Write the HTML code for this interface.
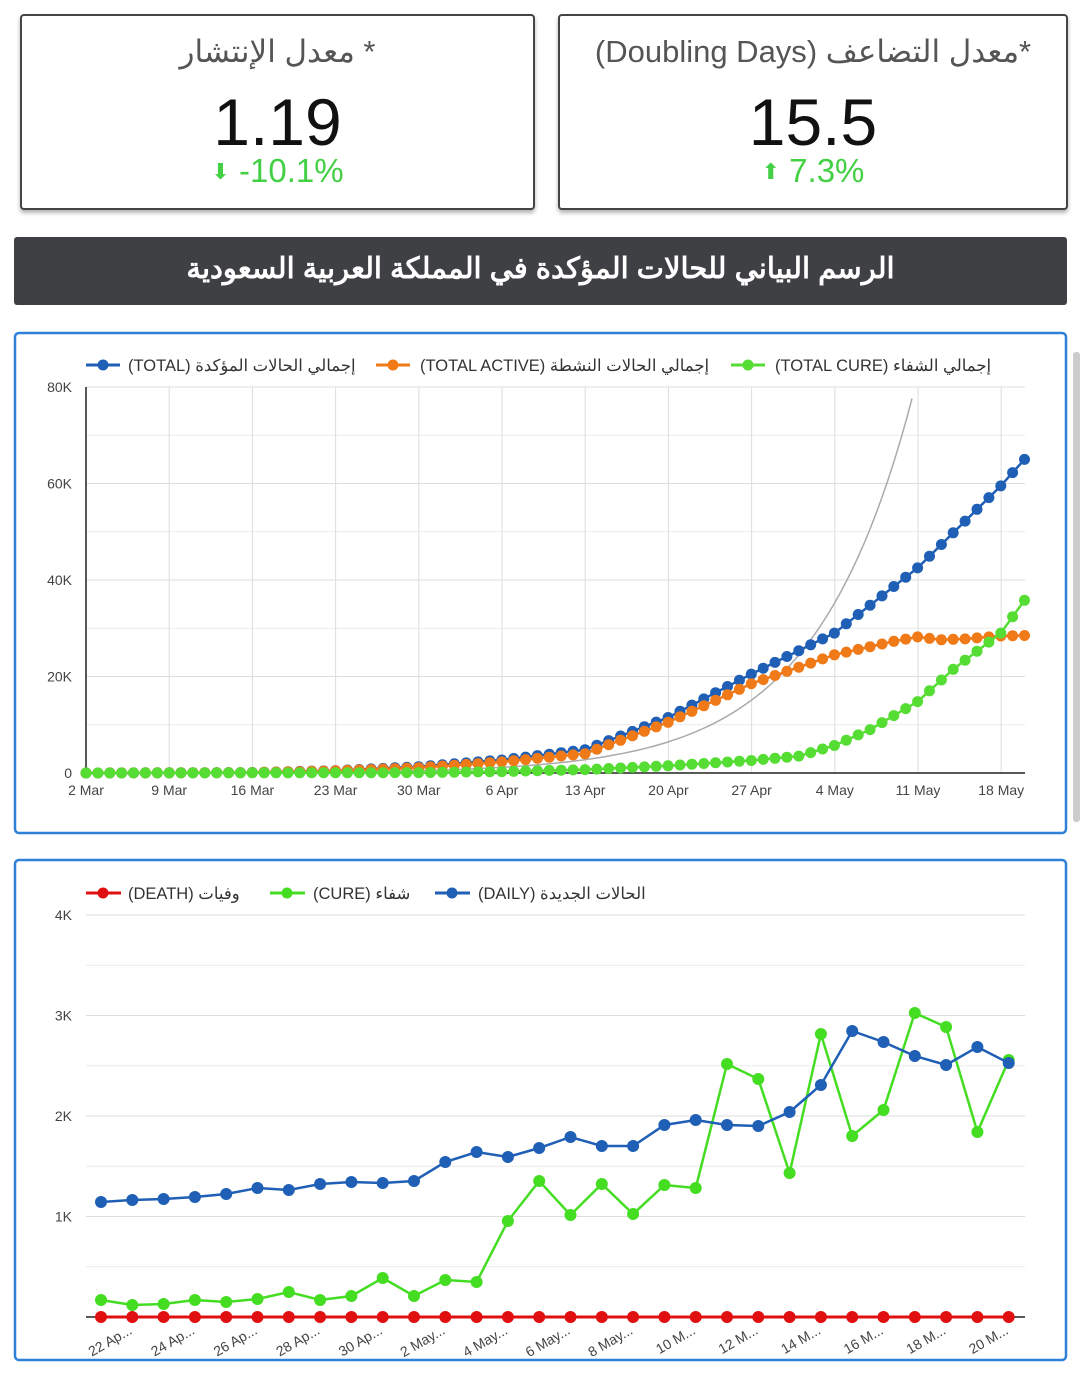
<!DOCTYPE html>
<html><head><meta charset="utf-8"><style>
html,body{margin:0;padding:0;background:#fff;width:1080px;height:1379px;overflow:hidden;font-family:"Liberation Sans","Noto Sans CJK SC",sans-serif}
.card{position:absolute;top:14px;height:192px;border:2px solid #444;border-radius:4px;box-shadow:0 3px 4px rgba(0,0,0,.3);background:#fff;text-align:center}
.t{position:absolute;left:0;right:0;top:18px;font-size:31px;color:#555;direction:rtl}
.v{position:absolute;left:0;right:0;top:68px;font-size:66px;color:#111}
.p{position:absolute;left:0;right:0;top:136px;font-size:33px;color:#44d044}
.p span{font-size:22px;font-family:"DejaVu Sans",sans-serif;vertical-align:3px}
.banner{position:absolute;left:14px;top:237px;width:1053px;height:68px;background:#3e4043;border-radius:3px;color:#fff;font-size:29px;font-weight:bold;text-align:center;line-height:64px;direction:rtl}
svg{position:absolute;left:0;top:0}
</style></head><body>
<div class="card" style="left:20px;width:511px"><div class="t">* معدل الإنتشار</div><div class="v">1.19</div><div class="p"><span>⬇</span> -10.1%</div></div>
<div class="card" style="left:558px;width:506px"><div class="t">*معدل التضاعف (Doubling Days)</div><div class="v">15.5</div><div class="p"><span>⬆</span> 7.3%</div></div>
<div class="banner">الرسم البياني للحالات المؤكدة في المملكة العربية السعودية</div>
<svg id="s" width="1080" height="1379" font-family="Liberation Sans, Noto Sans CJK SC, sans-serif"></svg>
<script>
var s='';
function L(x1,y1,x2,y2,c,w){s+='<line x1="'+x1+'" y1="'+y1+'" x2="'+x2+'" y2="'+y2+'" stroke="'+c+'" stroke-width="'+w+'"/>';}
function T(x,y,t,sz,a,c,extra){s+='<text x="'+x+'" y="'+y+'" font-size="'+sz+'" text-anchor="'+a+'" fill="'+(c||'#333')+'" '+(extra||'')+'>'+t+'</text>';}
function series(pts,c,r,w){s+='<polyline fill="none" stroke="'+c+'" stroke-width="'+w+'" points="'+pts.map(p=>p.join(',')).join(' ')+'"/>';pts.forEach(p=>{s+='<circle cx="'+p[0]+'" cy="'+p[1]+'" r="'+r+'" fill="'+c+'"/>';});}
s+='<rect x="15" y="333" width="1051" height="500" rx="4" fill="#fff" stroke="#2f80d8" stroke-width="2.5"/>';
s+='<rect x="15" y="860" width="1051" height="500" rx="4" fill="#fff" stroke="#2f80d8" stroke-width="2.5"/>';
s+='<rect x="1073" y="352" width="7" height="470" rx="3" fill="#ccc"/>';
for(var i=0;i<=8;i++){var y=387+i*48.25;L(86,y,1025,y,i%2?'#ececec':'#ddd',1);}
var dl=['2 Mar','9 Mar','16 Mar','23 Mar','30 Mar','6 Apr','13 Apr','20 Apr','27 Apr','4 May','11 May','18 May'];
dl.forEach((d,i)=>{var x=86+i*83.2;if(i)L(x,387,x,773,'#ddd',1);T(x,795,d,14,'middle','#444');});
L(86,387,86,773,'#222',1.5);L(86,773,1025,773,'#222',1.5);
['80K','60K','40K','20K','0'].forEach((t,i)=>T(72,392+i*96.5,t,14,'end','#444'));
function interp(a,d){for(var i=0;i<a.length-1;i++){if(d<=a[i+1][0]){var f=(d-a[i][0])/(a[i+1][0]-a[i][0]);return a[i][1]+f*(a[i+1][1]-a[i][1]);}}return a[a.length-1][1];}
var tot=[[0,0],[14,100],[21,500],[28,1300],[35,2700],[42,4800],[49,11500],[56,20500],[63,29000],[70,42500],[77,59500],[79,65000]];
var act=[[0,0],[14,90],[21,450],[28,1100],[35,2300],[42,4000],[49,10500],[56,18500],[63,24500],[68,27300],[70,28200],[72,27600],[74,27800],[77,28400],[79,28500]];
var cur=[[0,0],[28,80],[35,300],[42,700],[49,1500],[56,2600],[60,3500],[63,5700],[66,9000],[70,14800],[73,21500],[77,29000],[79,35800]];
function pts(a){var r=[];for(var d=0;d<=79;d++)r.push([(86+d*11.88).toFixed(1),(773-interp(a,d)/20000*96.5).toFixed(1)]);return r;}
var g=[];for(var x=300;x<=916;x+=6){var v=80000*Math.exp(-0.0102*(915-x));g.push([x,(773-v/20000*96.5).toFixed(1)]);}
s+='<polyline fill="none" stroke="#aaa" stroke-width="1.5" points="'+g.map(p=>p.join(',')).join(' ')+'"/>';
series(pts(tot),'#1f5fb5',5.5,2.5);
series(pts(act),'#f07a18',5.5,2.5);
series(pts(cur),'#55dd33',5.5,2.5);
function leg(x1,y,c,tx,t){L(x1,y,x1+34,y,c,3);s+='<circle cx="'+(x1+17)+'" cy="'+y+'" r="5.5" fill="'+c+'"/>';T(tx,y+6,t,16.5,'start','#333','direction="ltr"');}
leg(86,365,'#1f5fb5',128,'(TOTAL) <tspan>إجمالي الحالات المؤكدة</tspan>');
leg(376,365,'#f07a18',420,'(TOTAL ACTIVE) <tspan>إجمالي الحالات النشطة</tspan>');
leg(731,365,'#55dd33',775,'(TOTAL CURE) <tspan>إجمالي الشفاء</tspan>');
for(var i=0;i<=8;i++){var y=915+i*50.25;L(86,y,1025,y,i%2?'#ececec':'#ddd',1);}
L(86,1317,1025,1317,'#222',1.5);
['4K','3K','2K','1K'].forEach((t,i)=>T(72,920+i*100.5,t,14,'end','#444'));
var xs=[];for(var i=0;i<30;i++)xs.push(101+i*31.3);
var bl=[1202,1200,1199,1197,1194,1188,1190,1184,1182,1183,1181,1162,1152,1157,1148,1137,1146,1146,1125,1120,1125,1126,1112,1085,1031,1042,1056,1065,1047,1063];
var gr=[1300,1305,1304,1300,1302,1299,1292,1300,1296,1278,1296,1280,1282,1221,1181,1215,1184,1214,1185,1188,1064,1079,1173,1034,1136,1110,1013,1027,1132,1060];
series(xs.map((x,i)=>[x.toFixed(1),gr[i]]),'#44dd22',6,2.5);
series(xs.map((x,i)=>[x.toFixed(1),1317]),'#e01010',6,3);
series(xs.map((x,i)=>[x.toFixed(1),bl[i]]),'#1f5fb5',6,2.5);
var xl=['22 Ap...','24 Ap...','26 Ap...','28 Ap...','30 Ap...','2 May...','4 May...','6 May...','8 May...','10 M...','12 M...','14 M...','16 M...','18 M...','20 M...'];
xl.forEach((t,i)=>{var x=xs[i*2]+32,y=1333;s+='<text x="'+x+'" y="'+y+'" font-size="14" fill="#444" text-anchor="end" transform="rotate(-30 '+x+' '+y+')">'+t+'</text>';});
function leg2(x1,y,c,tx,t){L(x1,y,x1+35,y,c,3);s+='<circle cx="'+(x1+17)+'" cy="'+y+'" r="5.5" fill="'+c+'"/>';T(tx,y+6,t,16.5,'start','#333','direction="ltr"');}
leg2(86,893,'#e01010',128,'(DEATH) <tspan>وفيات</tspan>');
leg2(270,893,'#44dd22',313,'(CURE) <tspan>شفاء</tspan>');
leg2(435,893,'#1f5fb5',478,'(DAILY) <tspan>الحالات الجديدة</tspan>');
document.getElementById('s').innerHTML=s;
</script>
</body></html>
